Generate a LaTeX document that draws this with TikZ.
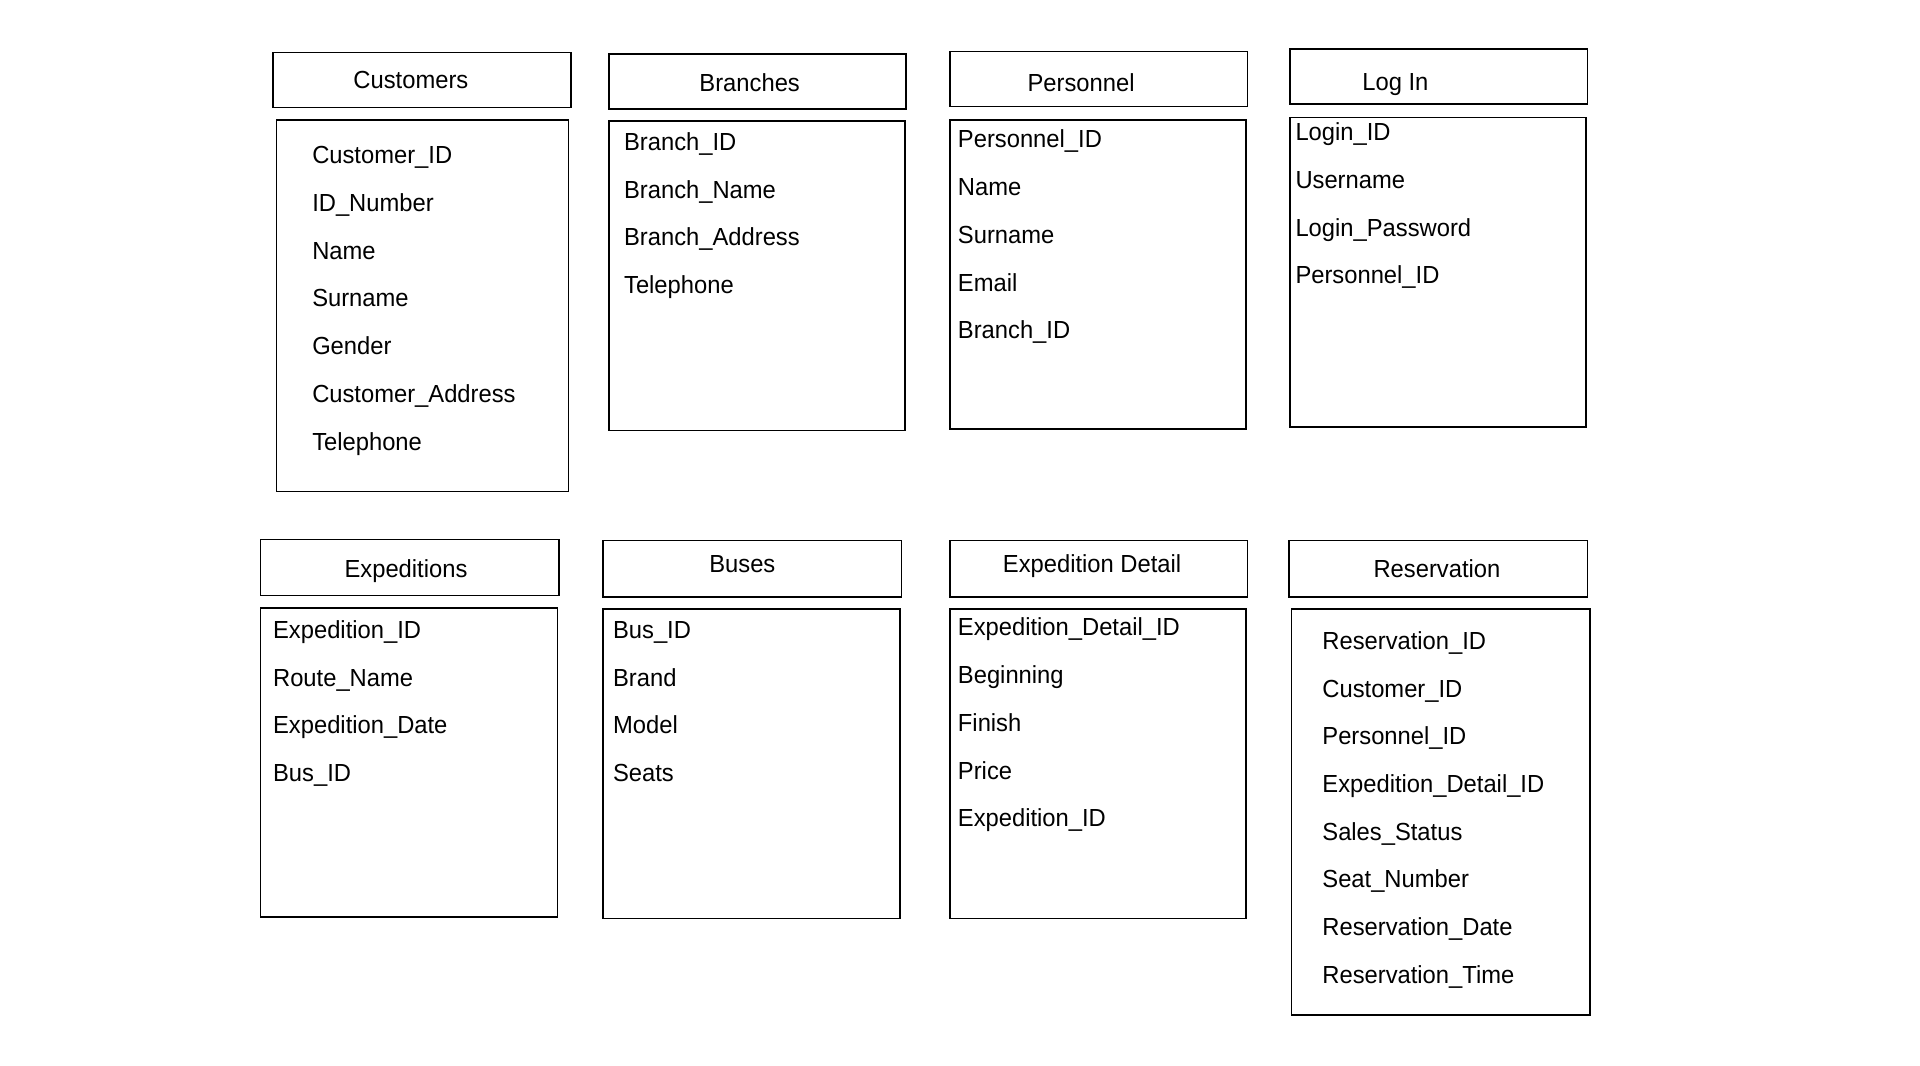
\documentclass[tikz,border=0pt]{standalone}
\usepackage{fontspec}
\setmainfont[FakeStretch=0.962]{Liberation Sans}
\begin{document}
\begin{tikzpicture}[x=0.6115pt,y=-0.6115pt,
  box/.style={draw=black,line width=0.8pt},
  ttl/.style={anchor=base,inner sep=0pt,font=\fontsize{12.35}{14}\selectfont},
  attr/.style={anchor=base west,inner sep=0pt,font=\fontsize{12.35}{14}\selectfont}]
\useasboundingbox[fill=white] (0,0) rectangle (1570,871);
% Row 1
\draw[box] (223,43) rectangle (467,88);
\node[ttl] (tcust) at (336,72.5) {Customers};
\draw[box] (226,98) rectangle (465,402);
\node[attr] (c1) at (255,134) {Customer\_ID};
\node[attr] (c2) at (255,173) {ID\_Number};
\node[attr] (c3) at (255,212) {Name};
\node[attr] (c4) at (255,251) {Surname};
\node[attr] (c5) at (255,290) {Gender};
\node[attr] (c6) at (255,329) {Customer\_Address};
\node[attr] (c7) at (255,368) {Telephone};

\draw[box] (498,44) rectangle (741,89);
\node[ttl] (tbr) at (613,74.5) {Branches};
\draw[box] (498,99) rectangle (740,352);
\node[attr] (b1) at (510,123) {Branch\_ID};
\node[attr] (b2) at (510,162) {Branch\_Name};
\node[attr] (b3) at (510,201) {Branch\_Address};
\node[attr] (b4) at (510,240) {Telephone};

\draw[box] (777,42) rectangle (1020,87);
\node[ttl] (tper) at (884,74.5) {Personnel};
\draw[box] (777,98) rectangle (1019,351);
\node[attr] (p1) at (783,121) {Personnel\_ID};
\node[attr] (p2) at (783,160) {Name};
\node[attr] (p3) at (783,199) {Surname};
\node[attr] (p4) at (783,238) {Email};
\node[attr] (p5) at (783,277) {Branch\_ID};

\draw[box] (1055,40) rectangle (1298,85);
\node[ttl] (tlog) at (1141,74) {Log In};
\draw[box] (1055,96) rectangle (1297,349);
\node[attr] (l1) at (1059,115) {Login\_ID};
\node[attr] (l2) at (1059,154) {Username};
\node[attr] (l3) at (1059,193) {Login\_Password};
\node[attr] (l4) at (1059,232) {Personnel\_ID};
% Row 2
\draw[box] (213,441) rectangle (457,487);
\node[ttl] (texp) at (332,472.5) {Expeditions};
\draw[box] (213,497) rectangle (456,750);
\node[attr] (e1) at (223,522) {Expedition\_ID};
\node[attr] (e2) at (223,561) {Route\_Name};
\node[attr] (e3) at (223,600) {Expedition\_Date};
\node[attr] (e4) at (223,639) {Bus\_ID};

\draw[box] (493,442) rectangle (737,488);
\node[ttl] (tbus) at (607,468.5) {Buses};
\draw[box] (493,498) rectangle (736,751);
\node[attr] (u1) at (501,522) {Bus\_ID};
\node[attr] (u2) at (501,561) {Brand};
\node[attr] (u3) at (501,600) {Model};
\node[attr] (u4) at (501,639) {Seats};

\draw[box] (777,442) rectangle (1020,488);
\node[ttl] (tdet) at (893,468.5) {Expedition Detail};
\draw[box] (777,498) rectangle (1019,751);
\node[attr] (d1) at (783,520) {Expedition\_Detail\_ID};
\node[attr] (d2) at (783,559) {Beginning};
\node[attr] (d3) at (783,598) {Finish};
\node[attr] (d4) at (783,637) {Price};
\node[attr] (d5) at (783,676) {Expedition\_ID};

\draw[box] (1054,442) rectangle (1298,488);
\node[ttl] (tres) at (1175,472.5) {Reservation};
\draw[box] (1056,498) rectangle (1300,830);
\node[attr] (r1) at (1081,531) {Reservation\_ID};
\node[attr] (r2) at (1081,570) {Customer\_ID};
\node[attr] (r3) at (1081,609) {Personnel\_ID};
\node[attr] (r4) at (1081,648) {Expedition\_Detail\_ID};
\node[attr] (r5) at (1081,687) {Sales\_Status};
\node[attr] (r6) at (1081,726) {Seat\_Number};
\node[attr] (r7) at (1081,765) {Reservation\_Date};
\node[attr] (r8) at (1081,804) {Reservation\_Time};
\end{tikzpicture}
\end{document}
